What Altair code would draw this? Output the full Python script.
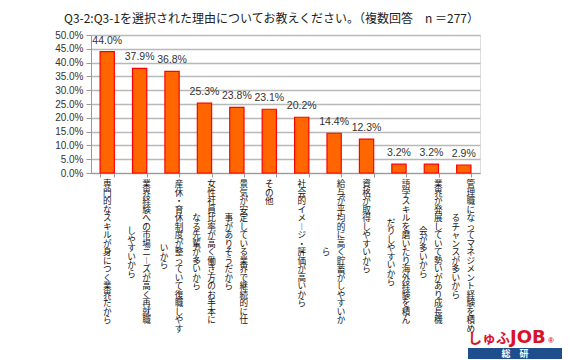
import altair as alt
import pandas as pd

title_text = "Q3-2:Q3-1を選択された理由についてお教えください。（複数回答　n ＝277）"

# x-axis labels, written vertically: first (right) column and second (left) column
col_main = [
    "専門的なスキルが身につく業界だから",
    "業界経験への市場ニ︱ズが高く再就職",
    "産休・育休制度が整っていて復職しやす",
    "女性社員比率が高く働き方のお手本に",
    "景気が安定している業界で継続的に仕",
    "その他",
    "社会的イメ︱ジ・評価が高いから",
    "給与が平均的に高く貯蓄がしやすいか",
    "資格が取得しやすいから",
    "語学スキルを磨いたり海外経験を積ん",
    "業界が発展していて勢いがあり成長機",
    "管理職になってマネジメント経験を積め",
]
col_second = [
    "",
    "しやすいから",
    "いから",
    "なる先輩が多いから",
    "事がありそうだから",
    "",
    "",
    "ら",
    "",
    "だりしやすいから",
    "会が多いから",
    "るチャンスが多いから",
]
values = [44.0, 37.9, 36.8, 25.3, 23.8, 23.1, 20.2, 14.4, 12.3, 3.2, 3.2, 2.9]
y_ticks = [0.0, 0.05, 0.10, 0.15, 0.20, 0.25, 0.30, 0.35, 0.40, 0.45, 0.50]

cats = [a + b for a, b in zip(col_main, col_second)]
df = pd.DataFrame({"cat": cats, "v": [v / 100 for v in values]})

# one row per character of the vertical labels
rows = []
for c, m, s in zip(cats, col_main, col_second):
    if s == "":
        for j, ch in enumerate(m):
            rows.append({"cat": c, "kind": "single", "r": j, "ch": ch})
    else:
        for j, ch in enumerate(m):
            rows.append({"cat": c, "kind": "main", "r": j, "ch": ch})
        start = (len(m) - len(s)) / 2
        for j, ch in enumerate(s):
            rows.append({"cat": c, "kind": "second", "r": start + j, "ch": ch})
chars = pd.DataFrame(rows)

W, H = 389, 138
lh = 8.5
y0 = H + 7 + lh / 2

yscale = alt.Scale(domain=[0, 0.5], nice=False)
xscale = alt.Scale(paddingInner=0.56, paddingOuter=0.28)

xaxis = alt.Axis(
    labels=False, title=None, ticks=True, tickBand="extent", tickSize=4,
    tickColor="#999999", domainColor="#999999", grid=False,
)
yaxis = alt.Axis(
    values=y_ticks, format=".1%", title=None, grid=True,
    gridColor="#b8b8b8", gridWidth=1.5, tickSize=5, labelPadding=3,
    labelFontSize=10, labelColor="#333333", labelFont="Liberation Sans",
    domainColor="#999999", tickColor="#999999",
)


def xenc():
    return alt.X("cat:N", sort=cats, scale=xscale, axis=xaxis)


bars = alt.Chart(df).mark_bar(fill="#FF6600", stroke="#FF0000", strokeWidth=1.2).encode(
    x=xenc(),
    y=alt.Y("v:Q", scale=yscale, axis=yaxis),
)

vlabels = alt.Chart(df).mark_text(
    dy=-6, baseline="bottom", fontSize=10.5, font="Liberation Sans", color="#333333"
).encode(
    x=xenc(),
    y=alt.Y("v:Q", scale=yscale, axis=yaxis),
    text=alt.Text("v:Q", format=".1%"),
)

main_layer = alt.layer(bars, vlabels)

ybase = alt.Y(
    "r:Q",
    scale=alt.Scale(domain=[0, 10], range=[y0, y0 + 10 * lh], nice=False, zero=False),
    axis=None,
)


def char_layer(kind, dx):
    return alt.Chart(chars).transform_filter(
        alt.datum.kind == kind
    ).mark_text(
        font="Noto Sans CJK JP", fontSize=8.6, color="#111111",
        align="center", baseline="middle", dx=dx,
    ).encode(
        x=xenc(),
        y=ybase,
        text="ch:N",
    )


c_layer = alt.layer(char_layer("single", 0), char_layer("main", 7), char_layer("second", -8))

# logo
logo_df = pd.DataFrame({"t": ["しゅふ"]})
logo = alt.Chart(logo_df).mark_text(
    font="Noto Sans CJK JP", fontSize=14, fontWeight="bold", color="#D9122B",
    align="left", baseline="alphabetic",
).encode(x=alt.value(377), y=alt.value(308), text="t:N")
job_df = pd.DataFrame({"t": ["JOB"]})
job = alt.Chart(job_df).mark_text(
    font="DejaVu Sans", fontSize=18, fontWeight="bold", color="#D9122B",
    align="left", baseline="alphabetic",
).encode(x=alt.value(419), y=alt.value(308), text="t:N")
reg_df = pd.DataFrame({"t": ["®"]})
reg = alt.Chart(reg_df).mark_text(
    font="Liberation Sans", fontSize=8, fontWeight="bold", color="#D9122B",
    align="left", baseline="alphabetic",
).encode(x=alt.value(457), y=alt.value(308), text="t:N")
band_df = pd.DataFrame({"t": ["総　研"]})
band = alt.Chart(band_df).mark_rect(color="#1F4E8C").encode(
    x=alt.value(377), x2=alt.value(471), y=alt.value(313), y2=alt.value(324)
)
band_txt = alt.Chart(band_df).mark_text(
    font="Noto Sans CJK JP", fontSize=9, fontWeight="bold", color="white",
    align="center", baseline="middle",
).encode(x=alt.value(424), y=alt.value(318.5), text="t:N")

chart = alt.layer(
    main_layer, c_layer, logo, job, reg, band, band_txt
).resolve_scale(y="independent").properties(
    width=W,
    height=H,
    title=alt.TitleParams(
        title_text, font="Noto Sans CJK JP", fontSize=12, fontWeight="normal",
        color="#222222", anchor="middle", dx=-14, offset=4,
    ),
    autosize=alt.AutoSizeParams(type="none"),
    padding={"left": 83, "top": 27, "right": 82, "bottom": 189},
).configure_view(stroke=None).configure(background="white")

chart.save("out.html", embed_options={"renderer": "svg", "actions": False})
